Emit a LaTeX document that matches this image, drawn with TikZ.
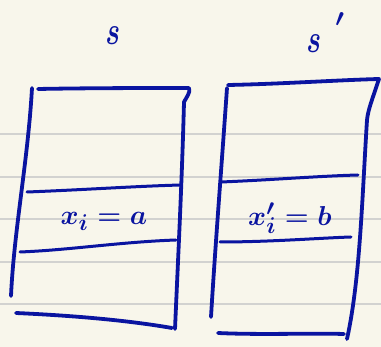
\documentclass[tikz,border=0pt]{standalone}
\usepackage{xcolor}
\usepackage{graphicx}
\definecolor{paper}{HTML}{F8F6EB}
\definecolor{rule}{HTML}{D2D2D0}
\definecolor{ink}{HTML}{0A14A0}
\begin{document}
\begin{tikzpicture}[x=1pt,y=-1pt,
  ruleline/.style={draw=rule,line width=1.8pt},
  pen/.style={draw=ink,line width=3.8pt,line cap=round,line join=round},
  thinpen/.style={draw=ink,line width=3pt,line cap=round},
  lbl/.style={text=ink,font=\fontsize{24.88}{28}\selectfont\boldmath,inner sep=0pt}]
\fill[paper] (0,0) rectangle (381,347);
\useasboundingbox (0,0) rectangle (381,347);
% ruled paper
\foreach \y in {134,177,219,262,304} \draw[ruleline] (0,\y) -- (381,\y);
% left box
\draw[pen] (32,88) .. controls (28,160) and (14,230) .. (11,296);
\draw[pen] (38,89) .. controls (90,88) and (150,88) .. (189,88) .. controls (191,92) and (186,98) .. (184,102)
  .. controls (182,180) and (178,260) .. (175,329);
\draw[pen] (16,313) .. controls (60,315) and (120,319) .. (172,328);
\draw[thinpen] (27,192) .. controls (80,190) and (140,186) .. (181,185);
\draw[thinpen] (20,252) .. controls (70,250) and (120,242) .. (176,240);
% right box
\draw[pen] (227,88) .. controls (222,160) and (215,250) .. (211,317);
\draw[pen] (228,85) .. controls (280,84) and (340,80) .. (379,79) .. controls (372,100) and (368,110) .. (367,120)
  .. controls (362,200) and (360,280) .. (347,339);
\draw[pen] (218,333) .. controls (260,335) and (310,333) .. (344,334);
\draw[thinpen] (221,182) .. controls (270,180) and (320,176) .. (358,175);
\draw[thinpen] (220,242) .. controls (270,242) and (320,238) .. (351,237);
% labels
\node[lbl] (lbls) at (113,36) {\scalebox{1.1}[1.6]{$s$}};
\node[lbl] (lblsp) at (314,44) {\scalebox{1.1}[1.6]{$s$}};
\node[lbl,anchor=north] (prime) at (340,12) {\scalebox{1.2}{$'$}};
\node[lbl] (cellL) at (104,221) {\scalebox{1.1}{$x_i = a$}};
\node[lbl] (cellR) at (290,218) {\scalebox{1.1}{$x_i' = b$}};
\end{tikzpicture}
\end{document}
